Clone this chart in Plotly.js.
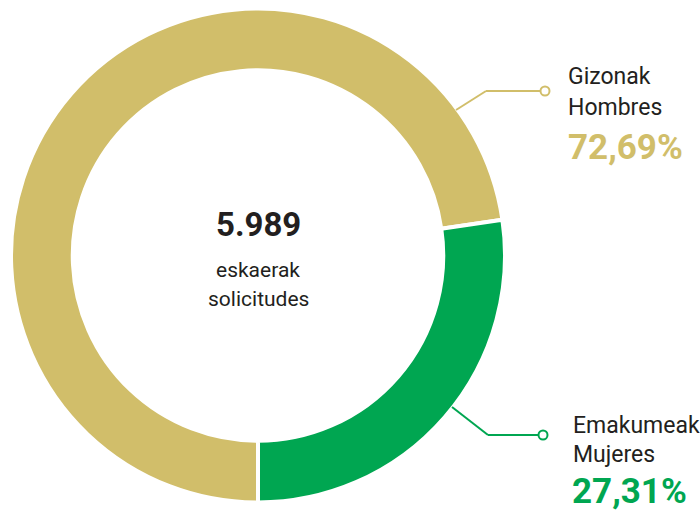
<!DOCTYPE html>
<html><head><meta charset="utf-8">
<script src="https://cdn.plot.ly/plotly-3.0.1.min.js"></script>
<style>html,body{margin:0;padding:0;background:#fff}#chart{width:700px;height:511px}</style>
</head><body><div id="chart"></div>
<script>
const labels = ["Hombres", "Mujeres"];
const labelsEu = ["Gizonak", "Emakumeak"];
const shares = [72.69, 27.31];
const shareText = ["72,69%", "27,31%"];
const colors = ["#D1BE6A", "#00A651"];
const totalText = "5.989";
const centerLines = ["eskaerak", "solicitudes"];

const W = 700, H = 511;
const px = x => x / W, py = y => 1 - y / H;
const FONT = "Roboto, 'Liberation Sans Narrow', sans-serif";
const cx = 258, cy = 255.5, R = 247;

const trace = {
  type: "pie", values: shares, labels: labels, sort: false,
  direction: "clockwise", rotation: 180, hole: 0.75,
  marker: {colors: colors, line: {color: "#fff", width: 4}},
  textinfo: "none", hoverinfo: "label+percent", showlegend: false,
  domain: {x: [px(cx - R), px(cx + R)], y: [py(cy + R), py(cy - R)]}
};

function leader(pts, col, circ) {
  const s = [];
  for (let i = 0; i < pts.length - 1; i++) {
    s.push({type: "line", xref: "paper", yref: "paper",
      x0: px(pts[i][0]), y0: py(pts[i][1]), x1: px(pts[i+1][0]), y1: py(pts[i+1][1]),
      line: {color: col, width: 2}});
  }
  const r = 4.5;
  s.push({type: "circle", xref: "paper", yref: "paper",
    x0: px(circ[0] - r), x1: px(circ[0] + r), y0: py(circ[1] + r), y1: py(circ[1] - r),
    fillcolor: "#fff", line: {color: col, width: 2}});
  return s;
}
const shapes = [
  ...leader([[456, 110], [486, 91], [540, 91]], colors[0], [545, 91]),
  ...leader([[452, 407], [488, 435], [538, 435]], colors[1], [543, 435])
];

const txt = (x, y, t, size, col, bold) => ({
  xref: "paper", yref: "paper", x: px(x), y: py(y), xanchor: "left", yanchor: "middle",
  text: bold ? "<b>" + t + "</b>" : t, showarrow: false,
  font: {family: FONT, size: size, color: col}
});
const ctr = (y, t, size, bold) => ({
  xref: "paper", yref: "paper", x: px(cx), y: py(y), xanchor: "center", yanchor: "middle",
  text: bold ? "<b>" + t + "</b>" : t, showarrow: false,
  font: {family: FONT, size: size, color: "#231F20"}
});

const annotations = [
  txt(566, 77, labelsEu[0], 23, "#231F20"),
  txt(566, 107, labels[0], 23, "#231F20"),
  txt(566, 147, shareText[0], 35, colors[0], true),
  txt(571, 425, labelsEu[1], 23, "#231F20"),
  txt(571, 454, labels[1], 23, "#231F20"),
  txt(570, 491, shareText[1], 35, colors[1], true),
  ctr(224, totalText, 33, true),
  ctr(270, centerLines[0], 21),
  ctr(299, centerLines[1], 21)
];

Plotly.newPlot("chart", [trace], {
  width: W, height: H, margin: {l: 0, r: 0, t: 0, b: 0},
  paper_bgcolor: "#fff", plot_bgcolor: "#fff",
  shapes: shapes, annotations: annotations
}, {displayModeBar: false, staticPlot: true});
</script></body></html>
